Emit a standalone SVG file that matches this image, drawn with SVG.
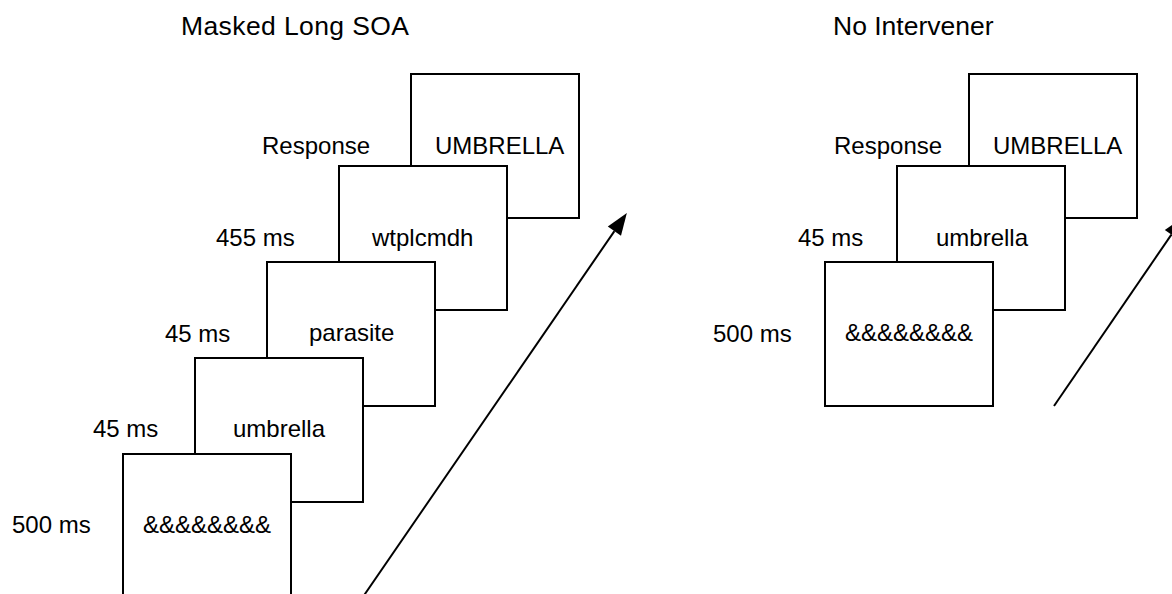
<svg xmlns="http://www.w3.org/2000/svg" width="1172" height="594" viewBox="0 0 1172 594">
  <style>
    .frame { fill: #ffffff; stroke: #000000; stroke-width: 2; }
    .t { font-family: "Liberation Sans", Arial, sans-serif; font-size: 24px; fill: #000000; }
    .title { font-family: "Liberation Sans", Arial, sans-serif; font-size: 26.5px; fill: #000000; }
    .arrow { stroke: #000000; stroke-width: 2; fill: none; }
  </style>
  <defs>
    <marker id="head" markerUnits="userSpaceOnUse" markerWidth="24" markerHeight="18" refX="0" refY="8" orient="auto" viewBox="0 0 24 16" overflow="visible">
      <path d="M0,0 L22,8 L0,16 z" fill="#000000"/>
    </marker>
  </defs>
  <rect width="1172" height="594" fill="#ffffff"/>

  <g id="titles">
    <text class="title" x="181" y="35" textLength="228" lengthAdjust="spacing">Masked Long SOA</text>
    <text class="title" x="833" y="35">No Intervener</text>
  </g>

  <!-- Left sequence: Masked Long SOA -->
  <g id="left-response">
    <rect class="frame" x="411" y="74" width="168" height="144"/>
    <text class="t" x="435" y="154">UMBRELLA</text>
    <text class="t" x="262" y="154">Response</text>
  </g>
  <g id="left-mask2">
    <rect class="frame" x="339" y="166" width="168" height="144"/>
    <text class="t" x="372" y="246">wtplcmdh</text>
    <text class="t" x="216" y="246">455 ms</text>
  </g>
  <g id="left-intervener">
    <rect class="frame" x="267" y="262" width="168" height="144"/>
    <text class="t" x="309" y="341">parasite</text>
    <text class="t" x="165" y="342">45 ms</text>
  </g>
  <g id="left-prime">
    <rect class="frame" x="195" y="358" width="168" height="144"/>
    <text class="t" x="233" y="437">umbrella</text>
    <text class="t" x="93" y="437">45 ms</text>
  </g>
  <g id="left-mask1">
    <rect class="frame" x="123" y="454" width="168" height="144"/>
    <text class="t" x="143" y="533">&amp;&amp;&amp;&amp;&amp;&amp;&amp;&amp;</text>
    <text class="t" x="12" y="533">500 ms</text>
  </g>

  <!-- Right sequence: No Intervener -->
  <g id="right-response">
    <rect class="frame" x="969" y="74" width="168" height="144"/>
    <text class="t" x="993" y="154">UMBRELLA</text>
    <text class="t" x="834" y="154">Response</text>
  </g>
  <g id="right-prime">
    <rect class="frame" x="897" y="166" width="168" height="144"/>
    <text class="t" x="936" y="246">umbrella</text>
    <text class="t" x="798" y="246">45 ms</text>
  </g>
  <g id="right-mask1">
    <rect class="frame" x="825" y="262" width="168" height="144"/>
    <text class="t" x="845" y="341">&amp;&amp;&amp;&amp;&amp;&amp;&amp;&amp;</text>
    <text class="t" x="713" y="342">500 ms</text>
  </g>

  <g id="connectors">
    <line class="arrow" x1="362.2" y1="598" x2="614.4" y2="231.1" marker-end="url(#head)"/>
    <line class="arrow" x1="1054" y1="406" x2="1171.4" y2="234.6" marker-end="url(#head)"/>
  </g>
</svg>
